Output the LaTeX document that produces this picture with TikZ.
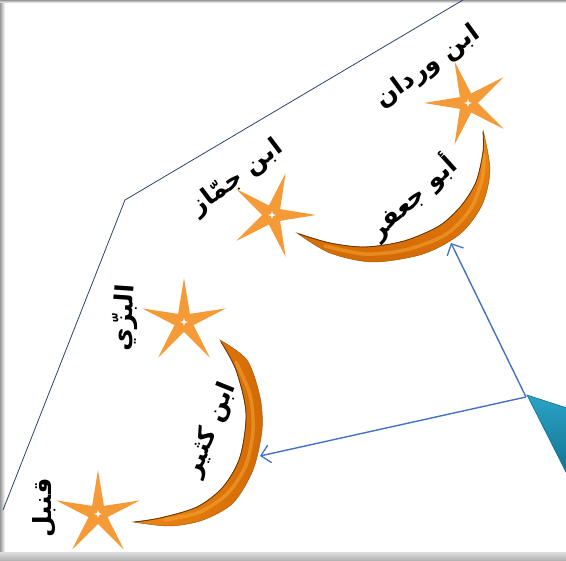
\documentclass[tikz,border=0pt]{standalone}
\usepackage{fontspec}
\newfontfamily\arabicfont[Script=Arabic]{DejaVu Sans}
\TeXXeTstate=1
\usetikzlibrary{shapes.geometric,arrows.meta}
\definecolor{starorange}{HTML}{F49A36}
\definecolor{crlight}{HTML}{F7A93A}
\definecolor{crmid}{HTML}{EE8814}
\definecolor{crdark}{HTML}{D46A04}
\definecolor{credge}{HTML}{A85A10}
\definecolor{arrowblue}{HTML}{4472C4}
\definecolor{navyline}{HTML}{2C4470}
\definecolor{tealA}{HTML}{2AA3C6}
\definecolor{tealB}{HTML}{12708E}
\tikzset{
  orstar/.style={star, star points=5, star point ratio=4.4, minimum size=88pt, inner sep=0pt, fill=starorange, draw=none},
  sparkle/.style={star, star points=4, star point ratio=3, minimum size=8pt, inner sep=0pt, fill=white, draw=none},
  artext/.style={font=\arabicfont\bfseries\fontsize{25}{28}\selectfont, inner sep=0pt, text=black},
  conn/.style={draw=arrowblue, line width=1.4pt, -{Straight Barb[length=9pt,width=18pt,line width=1.3pt]}},
  frame/.style={draw=navyline, line width=0.8pt},
  ridge/.style={draw=crlight, line width=3.5pt, line cap=round, opacity=0.5},
}
\begin{document}
\begin{tikzpicture}[x=1pt,y=-1pt]
\useasboundingbox (0,0) rectangle (566,561);
\fill[white] (0,0) rectangle (566,561);
% grey frame
\shade[left color=black!40, right color=white] (0,0) rectangle (5,561);
\shade[top color=black!40, bottom color=white] (0,0) rectangle (566,3);
\shade[top color=black!15, bottom color=black!32] (0,553) rectangle (566,561);
% outline polyline
\coordinate (p1) at (3,510);
\coordinate (p2) at (125,200);
\coordinate (p3) at (463,0);
\draw[frame] (p1) -- (p2) -- (p3);
% teal wedge
\begin{scope}
\clip (0,0) rectangle (566,561);
\shade[top color=tealA, bottom color=tealB, draw=tealB, line width=0.6pt] (527,395) -- (570,409) -- (570,480) -- cycle;
\end{scope}
% upper crescent
\shade[shading angle=45, top color=crmid, bottom color=crdark, draw=credge, line width=0.5pt]
  plot[smooth] coordinates {(297,233) (330,253) (373,262) (423,254) (460,234) (482,205) (490,170) (483,130)}
  -- plot[smooth] coordinates {(483,130) (483,152) (476,182) (461,206) (439,226) (404,241) (365,247) (330,243) (297,233)} -- cycle;
\draw[ridge] plot[smooth] coordinates {(325,246) (365,254) (405,250) (445,235) (470,210) (482,180) (484,155)};
\draw[credge!60!black, line width=0.8pt] plot[smooth] coordinates {(483,132) (483,152) (476,182) (461,206) (439,226) (404,241) (365,247) (330,243) (299,234)};
% lower crescent
\shade[left color=crmid, right color=crdark, draw=credge, line width=0.5pt]
  plot[smooth] coordinates {(220,340) (247,360) (260,397) (262,430) (253,470) (233,503) (203,520) (170,526) (133,522)}
  -- plot[smooth] coordinates {(133,522) (160,518) (197,507) (223,487) (240,457) (246,413) (236,370) (220,340)} -- cycle;
\draw[ridge] plot[smooth] coordinates {(236,362) (250,395) (253,430) (246,465) (228,493) (200,512) (165,520)};
\draw[credge!60!black, line width=0.8pt] plot[smooth] coordinates {(135,522) (160,518) (197,507) (223,487) (240,457) (246,413) (236,370) (221,342)};
% stars
\node[orstar, rotate=90] (s1) at (468,103) {};
\node[orstar, rotate=-90] (s2) at (272,215) {};
\node[orstar] (s3) at (184,322) {};
\node[orstar] (s4) at (98,514) {};
\node[sparkle] (w1) at (s1) {};
\node[sparkle] (w2) at (s2) {};
\node[sparkle] (w3) at (s3) {};
\node[sparkle] (w4) at (s4) {};
% texts
\node[artext, rotate=36] (t1) at (428,67) {\beginR ابن وردان\endR};
\node[artext, rotate=37] (t2) at (237,178) {\beginR ابن جمّاز\endR};
\node[artext, rotate=42] (t3) at (412,197) {\beginR أبو جعفر\endR};
\node[artext, rotate=86] (t4) at (125,318) {\beginR البزّي\endR};
\node[artext, rotate=68] (t5) at (211,430) {\beginR ابن كثير\endR};
\node[artext, rotate=90] (t6) at (44,508) {\beginR قنبل\endR};
% arrows
\coordinate (src) at (526,397);
\coordinate (m1) at (451,243);
\coordinate (m2) at (260,456);
\draw[conn] (src) -- (m1);
\draw[conn] (src) -- (m2);
\end{tikzpicture}
\end{document}
